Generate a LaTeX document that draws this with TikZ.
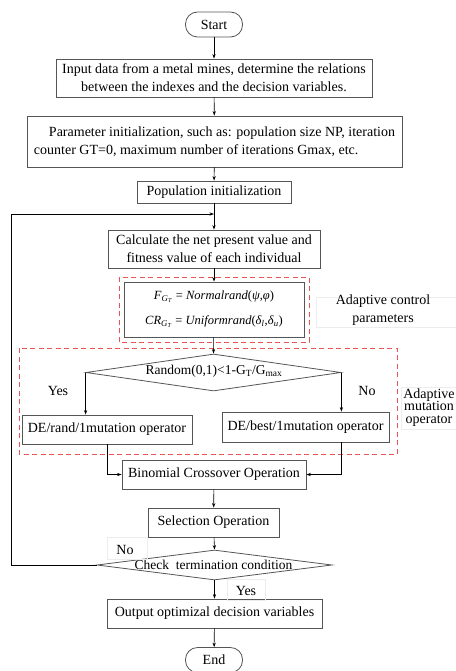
\documentclass[tikz,border=0pt]{standalone}
\usepackage{fontspec}
\setmainfont{Liberation Serif}
\usetikzlibrary{shapes.geometric,arrows.meta}
\definecolor{dashred}{RGB}{232,84,84}
\definecolor{boxline}{RGB}{85,85,85}

\tikzset{
  box/.style={draw=boxline, line width=0.8pt, inner sep=2pt, align=center,
    font=\fontsize{14}{18}\selectfont},
  term/.style={box, rounded corners=12pt, minimum width=57pt, minimum height=25pt},
  decision/.style={draw=boxline, line width=0.8pt, diamond, inner sep=0pt},
  dtext/.style={font=\fontsize{13.5}{16}\selectfont},
  arr/.style={-{Stealth[length=4.5pt,width=3.2pt]}, line width=0.6pt},
  reddash/.style={draw=dashred, line width=0.9pt, dash pattern=on 5pt off 3.5pt},
  note/.style={font=\fontsize{14}{18}\selectfont, align=center},
  faint/.style={draw=black!7, line width=0.6pt}
}

\begin{document}
\begin{tikzpicture}[x=1pt,y=-1pt]
\useasboundingbox (0,0) rectangle (455,671);

% main column
\node[term] (start) at (214,24.5) {Start};
\node[box, minimum width=316pt, minimum height=38pt] (input) at (214,78)
  {Input data from a metal mines, determine the relations\\between the indexes and the decision variables.};
\node[box, align=left, minimum width=375pt, minimum height=51pt] (param) at (214.5,141.5)
  {\hspace*{15pt}Parameter initialization, such as: population size NP, iteration\\counter GT=0, maximum number of iterations Gmax, etc.};
\node[box, minimum width=154pt, minimum height=22pt] (pop) at (214,192) {Population initialization};
\node[box, minimum width=212pt, minimum height=38pt] (calc) at (214,249)
  {Calculate the net present value and\\fitness value of each individual};
\node[box, minimum width=180pt, minimum height=55pt, font=\fontsize{12.5}{25}\selectfont] (formula) at (214,309.5)
  {\textit{F}\textsubscript{\textit{G}\textsubscript{\textit{T}}} = \textit{Normalrand}(\textit{ψ},\textit{φ})\\
   \textit{CR}\textsubscript{\textit{G}\textsubscript{\textit{T}}} = \textit{Uniformrand}(\textit{δ}\textsubscript{\textit{l}},\textit{δ}\textsubscript{\textit{u}})};

% mutation choice
\node[decision, minimum width=255pt, minimum height=37pt] (rnd) at (213.5,372.5) {};
\node[dtext] (rndtxt) at (214,371) {Random(0,1)<1-G\textsubscript{T}/G\textsubscript{max}};
\node[box, minimum width=170pt, minimum height=29pt] (derand) at (107,429.5) {DE/rand/1mutation operator};
\node[box, minimum width=167pt, minimum height=30pt] (debest) at (305.5,427) {DE/best/1mutation operator};
\node[note] (yes1) at (58,391) {Yes};
\node[note] (no1) at (367,391) {No};

\node[box, minimum width=184pt, minimum height=29pt] (binom) at (214,474.5) {Binomial Crossover Operation};
\node[box, minimum width=131pt, minimum height=29pt] (select) at (213.5,522.5) {Selection Operation};
\node[decision, minimum width=235pt, minimum height=30pt] (check) at (214.5,565) {};
\node[dtext] (checktxt) at (213.5,565) {Check\ \ termination condition};
\node[box, minimum width=215pt, minimum height=29pt] (output) at (214.5,613.5) {Output optimizal decision variables};
\node[term] (end) at (214,660) {End};

% red dashed groups
\draw[reddash] (119,277) rectangle (309,342);
\draw[reddash] (19,348) rectangle (397,454);

% side notes
\draw[faint] (316,297) rectangle (470,327);
\node[note] (ctrl) at (383,310.5) {Adaptive control\\parameters};
\draw[faint] (401,387) rectangle (470,429);
\node[note, font=\fontsize{14}{12.5}\selectfont] (mut) at (429,407.5) {Adaptive\\mutation\\operator};
\draw[faint] (107,537) rectangle (147,559);
\node[note] (no2) at (125,549.5) {No};
\draw[faint] (227,579) rectangle (265,600);
\node[note] (yes2) at (246,590.5) {Yes};

% connectors
\draw[arr] (start) -- (input);
\draw[arr] (input) -- (param);
\draw[arr] (param) -- (pop);
\draw[arr] (pop) -- (calc);
\draw[arr] (calc) -- (formula);
\draw[arr] (formula) -- (rnd.north);
\draw[arr] (rnd.west) -- (rnd.west |- derand.north);
\draw[arr] (rnd.east) -- (rnd.east |- debest.north);
\draw[arr] (derand.south) |- (binom.west);
\draw[arr] (debest.south -| rnd.east) |- (binom.east);
\draw[arr] (binom) -- (select);
\draw[arr] (select) -- (check.north);
\draw[arr] (check.south) -- (output);
\draw[arr] (output) -- (end);
\coordinate (back) at (11,214);
\draw[arr] (check.west) -| (back) -- (back -| calc.north);
\end{tikzpicture}
\end{document}
